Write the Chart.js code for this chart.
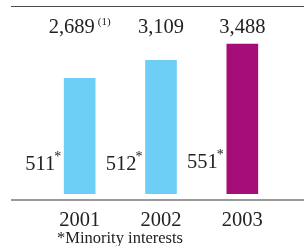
<!DOCTYPE html>
<html>
<head>
<meta charset="utf-8">
<script src="https://cdn.jsdelivr.net/npm/chart.js@4/dist/chart.umd.min.js"></script>
<style>
  html, body { margin: 0; padding: 0; background: #fff; }
  #wrap { width: 304px; height: 246px; }
</style>
</head>
<body>
<div id="wrap"><canvas id="chart" width="304" height="246"></canvas></div>
<script>
// Chart data
const YEARS = ['2001', '2002', '2003'];
const TOTALS = [2689, 3109, 3488];
const TOTAL_LABELS = ['2,689', '3,109', '3,488'];
const TOTAL_NOTES = ['(1)', '', ''];
const MINORITY = ['511', '512', '551'];
const BAR_COLORS = ['#6dcff6', '#6dcff6', '#a50d78'];
const FOOTNOTE = '*Minority interests';

const SERIF = '"Liberation Serif", "DejaVu Serif", serif';

// Draws rules, value labels, years and footnote
const labelsPlugin = {
  id: 'labels',
  afterDraw(chart) {
    const ctx = chart.ctx;
    const bars = chart.getDatasetMeta(0).data;
    ctx.save();

    // Top rule
    ctx.fillStyle = '#4a4a4a';
    ctx.fillRect(11, 6, 293, 1);

    // Baseline rule
    ctx.fillStyle = '#999999';
    ctx.fillRect(11, 199, 293, 2);

    ctx.fillStyle = '#222222';
    ctx.textBaseline = 'alphabetic';

    bars.forEach((bar, i) => {
      // Total above the bars (with optional note)
      ctx.font = '20.5px ' + SERIF;
      const w = ctx.measureText(TOTAL_LABELS[i]).width;
      let noteW = 0;
      if (TOTAL_NOTES[i]) {
        ctx.font = '11px ' + SERIF;
        noteW = ctx.measureText(TOTAL_NOTES[i]).width + 3;
      }
      const startX = bar.x - (w + noteW) / 2;
      ctx.font = '20.5px ' + SERIF;
      ctx.textAlign = 'left';
      ctx.fillText(TOTAL_LABELS[i], startX, 33);
      if (TOTAL_NOTES[i]) {
        ctx.font = '11px ' + SERIF;
        ctx.fillText(TOTAL_NOTES[i], startX + w + 3, 25);
      }

      // Minority interests beside the bar
      const left = bar.x - bar.width / 2;
      const y = i === 2 ? 168 : 170;
      ctx.font = '14px ' + SERIF;
      ctx.textAlign = 'right';
      ctx.fillText('*', left - 3, y - 9);
      ctx.font = '20.5px ' + SERIF;
      ctx.fillText(MINORITY[i], left - 9, y);

      // Year under the baseline
      ctx.textAlign = 'center';
      ctx.fillText(YEARS[i], bar.x, 226);
    });

    // Footnote
    ctx.font = '16.5px ' + SERIF;
    ctx.textAlign = 'left';
    ctx.fillText(FOOTNOTE, 57, 243);

    ctx.restore();
  }
};

new Chart(document.getElementById('chart'), {
  type: 'bar',
  data: {
    labels: YEARS,
    datasets: [{
      data: TOTALS,
      backgroundColor: BAR_COLORS,
      borderWidth: 0,
      barThickness: 31
    }]
  },
  options: {
    responsive: false,
    animation: false,
    layout: {
      padding: { top: 41, bottom: 52, left: 39, right: 21 }
    },
    scales: {
      x: { display: false },
      y: { display: false, min: 0, max: 3560 }
    },
    plugins: {
      legend: { display: false },
      tooltip: { enabled: false }
    }
  },
  plugins: [labelsPlugin]
});
</script>
</body>
</html>
